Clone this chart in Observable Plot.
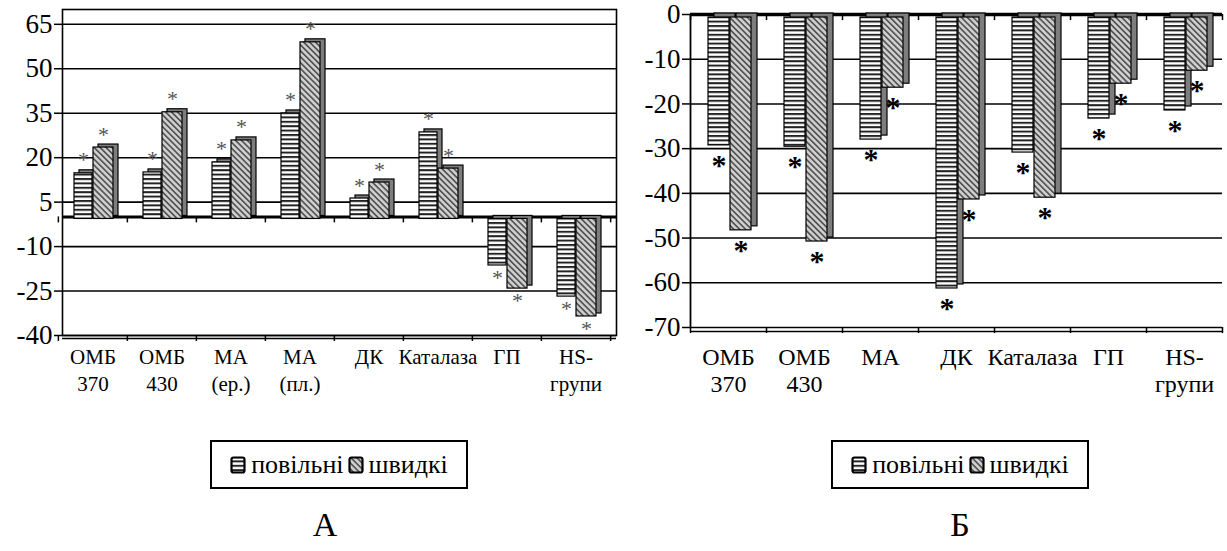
<!DOCTYPE html>
<html>
<head>
<meta charset="utf-8">
<script src="https://cdn.jsdelivr.net/npm/d3@7"></script>
<script src="https://cdn.jsdelivr.net/npm/@observablehq/plot@0.6"></script>
<style>
  body { margin: 0; background: #fff; font-family: "Liberation Serif", "DejaVu Serif", serif; }
  #wrap { position: relative; width: 1227px; height: 551px; overflow: hidden; background: #fff; }
  .panel { position: absolute; top: 0; }
  .legend { position: absolute; top: 440px; width: 258px; height: 49px; box-sizing: border-box;
    border: 2px solid #000; display: flex; align-items: center; justify-content: center;
    font-family: "Liberation Serif", "DejaVu Serif", serif; font-size: 26px; color: #000; }
  .legend svg { margin: 0 5px 0 2px; }
  .legend span { margin-right: 2px; }
  .lbl { position: absolute; top: 506px; font-family: "Liberation Serif", "DejaVu Serif", serif; font-size: 34px; width: 60px; text-align: center; }
</style>
</head>
<body>
<svg width="0" height="0" style="position:absolute">
  <defs>
    <pattern id="hstripe" width="8" height="4.4" patternUnits="userSpaceOnUse">
      <rect width="8" height="4.4" fill="#fff"/>
      <rect y="0" width="8" height="2" fill="#222"/>
    </pattern>
    <pattern id="dhatch" width="4.2" height="4.2" patternUnits="userSpaceOnUse" patternTransform="rotate(-45)">
      <rect width="4.2" height="4.2" fill="#cfcfcf"/>
      <rect width="1.7" height="4.2" fill="#555"/>
    </pattern>
  </defs>
</svg>
<div id="wrap">
  <div id="pa" class="panel" style="left:0"></div>
  <div id="pb" class="panel" style="left:625px"></div>
  <div id="lega" class="legend" style="left:210px"></div>
  <div id="legb" class="legend" style="left:831px"></div>
  <div class="lbl" style="left:295px">А</div>
  <div class="lbl" style="left:930px">Б</div>
</div>
<script>
// ---- Data ----
const seriesNames = ["повільні", "швидкі"];

const categoriesA = ["ОМБ 370", "ОМБ 430", "МА (ер.)", "МА (пл.)", "ДК", "Каталаза", "ГП", "HS-групи"];
const labelsA1 = ["ОМБ", "ОМБ", "МА", "МА", "ДК", "Каталаза", "ГП", "HS-"];
const labelsA2 = ["370", "430", "(ер.)", "(пл.)", "", "", "", "групи"];
const slowA = [15.4, 15.7, 19.1, 35.6, 6.9, 29.2, -15.7, -26.2];
const fastA = [24.1, 36.0, 26.5, 59.6, 12.3, 17.0, -23.5, -32.9];
const ticksA = [65, 50, 35, 20, 5, -10, -25, -40];

const categoriesB = ["ОМБ 370", "ОМБ 430", "МА", "ДК", "Каталаза", "ГП", "HS-групи"];
const labelsB1 = ["ОМБ", "ОМБ", "МА", "ДК", "Каталаза", "ГП", "HS-"];
const labelsB2 = ["370", "430", "", "", "", "", "групи"];
const slowB = [-28.6, -28.9, -27.3, -60.6, -30.2, -22.6, -20.8];
const fastB = [-47.6, -50.1, -15.7, -40.7, -40.3, -14.8, -11.9];
const ticksB = [0, -10, -20, -30, -40, -50, -60, -70];

const FONT = "Liberation Serif, DejaVu Serif, serif";

function makeChart(o) {
  const n = o.cats.length;
  const bw = (o.width - o.ml - o.mr) / n;
  const slowRows = o.cats.map((c, i) => ({cat: c, v: o.slow[i], s: seriesNames[0]}));
  const fastRows = o.cats.map((c, i) => ({cat: c, v: o.fast[i], s: seriesNames[1]}));
  const [fdx, fdy] = o.front;
  const [ddx, ddy] = o.depth;
  const marks = [];
  marks.push(Plot.ruleY(o.ticks, {stroke: "#000", strokeWidth: 1.6}));
  o.floors.forEach(([v, w, dy]) => marks.push(Plot.ruleY([v], {stroke: "#000", strokeWidth: w, dy})));
  if (o.frame) marks.push(Plot.frame({stroke: "#000", strokeWidth: 1.6}));
  else marks.push(Plot.ruleX([o.cats[0]], {x: d => d, dx: -bw / 2, stroke: "#000", strokeWidth: 1.8}));
  marks.push(Plot.axisY({ticks: o.ticks, tickFormat: d => String(d), tickSize: 8, tickPadding: 2,
    fontSize: o.yFont, fontFamily: FONT, label: null, stroke: "#000", strokeWidth: 1.5}));
  o.tickLevels.forEach(lv => {
    marks.push(Plot.ruleX(o.cats, {x: d => d, dx: fdx - bw / 2, y1: lv, y2: lv - o.tickLen, stroke: "#000", strokeWidth: 1.5}));
    marks.push(Plot.ruleX([o.cats[n - 1]], {x: d => d, dx: fdx + bw / 2, y1: lv, y2: lv - o.tickLen, stroke: "#000", strokeWidth: 1.5}));
  });
  const series = [[slowRows, o.insS, "url(#hstripe)"], [fastRows, o.insF, "url(#dhatch)"]];
  series.forEach(([rows, [il, ir], fill]) => {
    marks.push(Plot.barY(rows, {x: "cat", y: "v", insetLeft: il, insetRight: ir, dx: fdx + ddx, dy: fdy - ddy,
      fill: "#7d7d7d", stroke: "#000", strokeWidth: 1.2}));
    marks.push(Plot.barY(rows, {x: "cat", y: "v", insetLeft: il, insetRight: ir, dx: fdx, dy: fdy,
      fill, stroke: "#000", strokeWidth: 1.2}));
  });
  series.forEach(([rows, [il, ir]]) => {
    const cx = fdx + (il - ir) / 2;
    const st = {x: "cat", y: "v", text: () => "*", dx: cx, fill: o.star.fill, fontSize: o.star.fontSize,
      fontWeight: o.star.fontWeight, fontFamily: FONT};
    marks.push(Plot.text(rows.filter(d => d.v >= 0), {...st, dy: fdy + o.star.up}));
    marks.push(Plot.text(rows.filter(d => d.v < 0), {...st, dy: fdy + o.star.down}));
  });
  const lab = o.cats.map((c, i) => ({cat: c, a: o.l1[i], b: o.l2[i]}));
  marks.push(Plot.text(lab, {x: "cat", y: o.domain[0], text: "a", dx: fdx, dy: o.l1dy, fontSize: o.xFont, fontFamily: FONT, fill: "#000"}));
  marks.push(Plot.text(lab, {x: "cat", y: o.domain[0], text: "b", dx: fdx, dy: o.l2dy, fontSize: o.xFont, fontFamily: FONT, fill: "#000"}));

  return Plot.plot({
    width: o.width, height: o.height,
    marginTop: o.mt, marginBottom: o.mb, marginLeft: o.ml, marginRight: o.mr,
    style: {fontFamily: FONT, background: "#fff", color: "#000", overflow: "visible"},
    x: {domain: o.cats, padding: 0, axis: null},
    y: {domain: o.domain},
    marks
  });
}

const chartA = makeChart({
  cats: categoriesA, l1: labelsA1, l2: labelsA2, slow: slowA, fast: fastA, ticks: ticksA,
  domain: [-40, 70], width: 625, height: 400, mt: 9, mb: 65, ml: 62, mr: 9,
  front: [-5, 2], depth: [5, 3], insS: [16, 35], insF: [35, 14],
  yFont: 27, xFont: 21, l1dy: 22, l2dy: 49,
  tickLevels: [0, -40], tickLen: 2, frame: true,
  floors: [[0, 3, 0], [-40, 1.5, 3]],
  star: {fill: "#555", fontSize: 22, fontWeight: "normal", up: -13, down: 12}
});
const chartB = makeChart({
  cats: categoriesB, l1: labelsB1, l2: labelsB2, slow: slowB, fast: fastB, ticks: ticksB,
  domain: [-70, 0], width: 602, height: 400, mt: 14, mb: 73, ml: 65, mr: 5,
  front: [0, 3], depth: [6, 4], insS: [18, 37], insF: [40, 15],
  yFont: 27, xFont: 24, l1dy: 30, l2dy: 57,
  tickLevels: [0, -70], tickLen: 1.35, frame: false,
  floors: [[0, 3.5, 0], [-70, 1.5, 4]],
  star: {fill: "#000", fontSize: 30, fontWeight: "bold", up: -16, down: 20}
});
document.getElementById("pa").appendChild(chartA);
document.getElementById("pb").appendChild(chartB);

function swatch(fill) {
  return `<svg width="16" height="18"><rect x="1.5" y="1.5" width="13" height="15" rx="2" fill="${fill}" stroke="#000" stroke-width="2.2"/></svg>`;
}
const legHTML = `${swatch("url(#hstripe)")}<span>${seriesNames[0]}</span>${swatch("url(#dhatch)")}<span>${seriesNames[1]}</span>`;
document.getElementById("lega").innerHTML = legHTML;
document.getElementById("legb").innerHTML = legHTML;
</script>
</body>
</html>
